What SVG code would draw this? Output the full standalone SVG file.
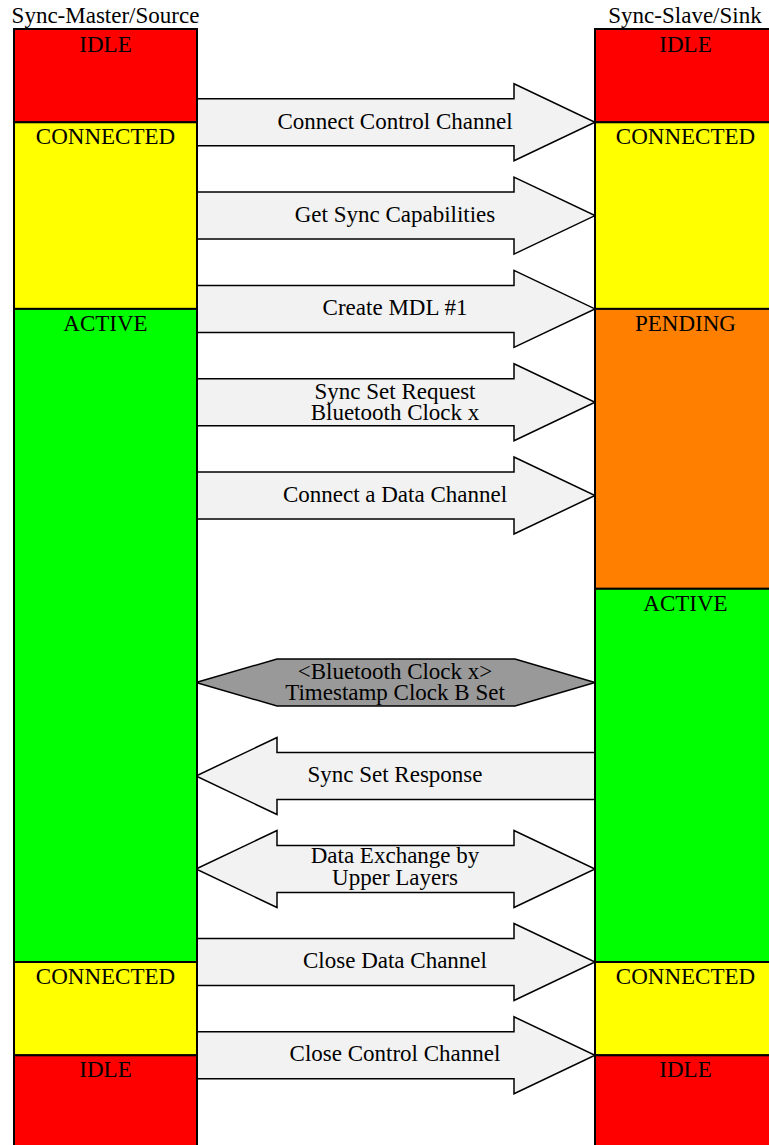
<svg xmlns="http://www.w3.org/2000/svg" xmlns:xlink="http://www.w3.org/1999/xlink" width="769" height="1145" viewBox="0 0 769 1145">
<style>
text{font-family:"Liberation Serif","Times New Roman",serif;font-size:23px;fill:#000;text-anchor:middle}
.st{stroke:#000;stroke-width:2}
.idle{fill:#ff0000}.conn{fill:#ffff00}.act{fill:#00ff00}.pend{fill:#ff8000}
.arr{fill:#f2f2f2;stroke:#000;stroke-width:1.5;stroke-linejoin:miter}
.hex{fill:#999999;stroke:#000;stroke-width:1.5}
</style>
<defs>
<polygon id="arrR" points="197,-23.5 514,-23.5 514,-38.5 595,0 514,38.5 514,23.5 197,23.5"/>
<polygon id="arrL" points="595,-23.5 277,-23.5 277,-38.5 196,0 277,38.5 277,23.5 595,23.5"/>
<polygon id="arrD" points="196,0 277,-38.5 277,-23.5 514,-23.5 514,-38.5 595,0 514,38.5 514,23.5 277,23.5 277,38.5"/>
<polygon id="hexa" points="196,0 277,-23.5 515,-23.5 595,0 515,23.5 277,23.5"/>
</defs>
<rect width="769" height="1145" fill="#fff"/>
<text x="105.5" y="23">Sync-Master/Source</text>
<text x="685" y="23">Sync-Slave/Sink</text>
<g id="connectors">
<use xlink:href="#arrR" y="122.3" class="arr"/>
<use xlink:href="#arrR" y="215.6" class="arr"/>
<use xlink:href="#arrR" y="308.9" class="arr"/>
<use xlink:href="#arrR" y="402.2" class="arr"/>
<use xlink:href="#arrR" y="495.5" class="arr"/>
<use xlink:href="#hexa" y="682.5" class="hex"/>
<use xlink:href="#arrL" y="776" class="arr"/>
<use xlink:href="#arrD" y="869" class="arr"/>
<use xlink:href="#arrR" y="962" class="arr"/>
<use xlink:href="#arrR" y="1055.3" class="arr"/>
<text x="395" y="128.5">Connect Control Channel</text>
<text x="395" y="221.8">Get Sync Capabilities</text>
<text x="395" y="315">Create MDL #1</text>
<text x="395" y="399.3">Sync Set Request</text>
<text x="395" y="420">Bluetooth Clock x</text>
<text x="395" y="501.7">Connect a Data Channel</text>
<text x="395" y="679">&lt;Bluetooth Clock x&gt;</text>
<text x="395" y="699.5">Timestamp Clock B Set</text>
<text x="395" y="781.7">Sync Set Response</text>
<text x="395" y="863">Data Exchange by</text>
<text x="395" y="885">Upper Layers</text>
<text x="395" y="968">Close Data Channel</text>
<text x="395" y="1061.3">Close Control Channel</text>
</g>
<g id="master">
<g id="m-idle1"><rect x="14" y="29" width="183" height="93.3" class="idle st"/><text x="105.5" y="52">IDLE</text></g>
<g id="m-conn1"><rect x="14" y="122.3" width="183" height="186.6" class="conn st"/><text x="105.5" y="144">CONNECTED</text></g>
<g id="m-active"><rect x="14" y="308.9" width="183" height="653.1" class="act st"/><text x="105.5" y="330.5">ACTIVE</text></g>
<g id="m-conn2"><rect x="14" y="962" width="183" height="93.3" class="conn st"/><text x="105.5" y="983.5">CONNECTED</text></g>
<g id="m-idle2"><rect x="14" y="1055.3" width="183" height="100" class="idle st"/><text x="105.5" y="1077">IDLE</text></g>
</g>
<g id="slave">
<g id="s-idle1"><rect x="595" y="29" width="182" height="93.3" class="idle st"/><text x="685.5" y="52">IDLE</text></g>
<g id="s-conn1"><rect x="595" y="122.3" width="182" height="186.6" class="conn st"/><text x="685.5" y="144">CONNECTED</text></g>
<g id="s-pend"><rect x="595" y="308.9" width="182" height="279.9" class="pend st"/><text x="685.5" y="330.5">PENDING</text></g>
<g id="s-active"><rect x="595" y="588.8" width="182" height="373.2" class="act st"/><text x="685.5" y="610.5">ACTIVE</text></g>
<g id="s-conn2"><rect x="595" y="962" width="182" height="93.3" class="conn st"/><text x="685.5" y="983.5">CONNECTED</text></g>
<g id="s-idle2"><rect x="595" y="1055.3" width="182" height="100" class="idle st"/><text x="685.5" y="1077">IDLE</text></g>
</g>
</svg>
